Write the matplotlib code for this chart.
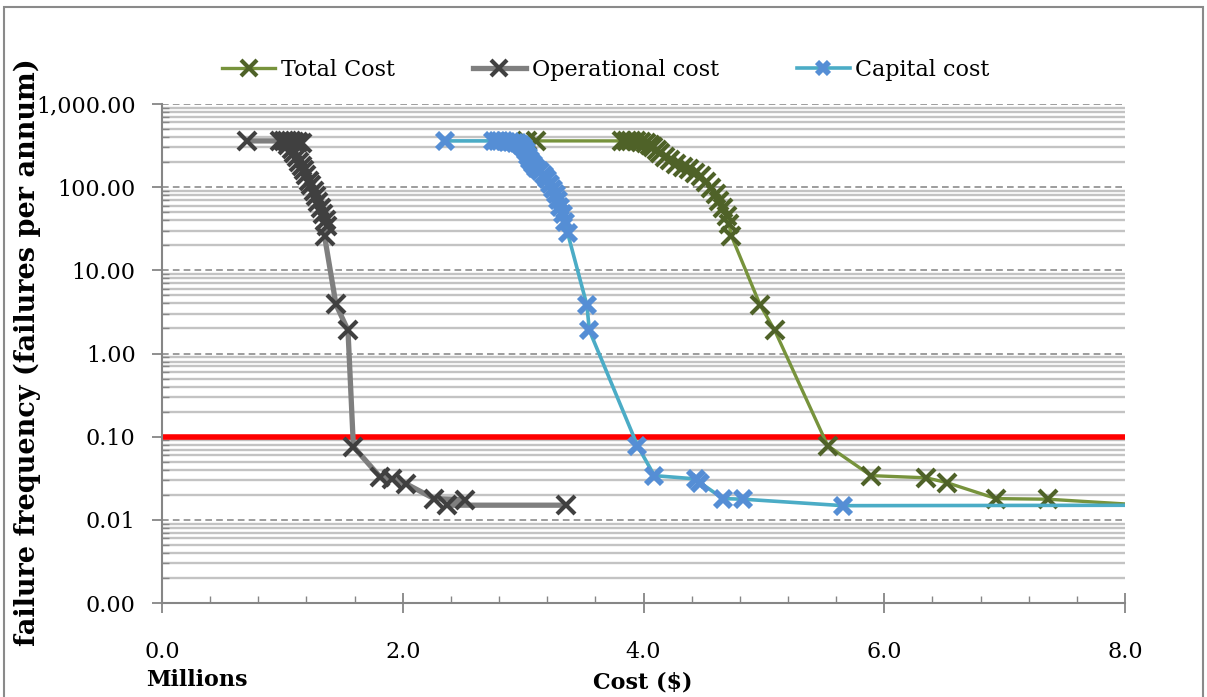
import matplotlib
matplotlib.use("Agg")
import matplotlib.pyplot as plt
from matplotlib.ticker import FixedLocator, FuncFormatter, LogLocator, MultipleLocator
from matplotlib.patches import Rectangle

# cost in millions of $, failure frequency per annum
total_x = [3.03, 3.11, 3.82, 3.86, 3.90, 3.94, 3.98, 4.02, 4.05, 4.08, 4.11, 4.14,
           4.18, 4.22, 4.27, 4.33, 4.38, 4.43, 4.48, 4.52, 4.56, 4.60, 4.63, 4.66,
           4.69, 4.71, 4.73, 4.97, 5.09, 5.53, 5.89, 6.35, 6.52, 6.93, 7.36, 8.30]
total_y = [360, 360, 360, 360, 358, 355, 350, 340, 320, 300, 280, 255,
           230, 210, 190, 175, 165, 150, 135, 115, 98, 82, 68, 56,
           45, 36, 26, 3.8, 1.9, 0.078, 0.034, 0.032, 0.028, 0.018, 0.0177, 0.0146]

oper_x = [0.71, 0.98, 1.01, 1.04, 1.07, 1.10, 1.13, 1.16, 1.05, 1.08, 1.10, 1.12,
          1.14, 1.16, 1.18, 1.20, 1.22, 1.24, 1.26, 1.28, 1.30, 1.32, 1.34, 1.36,
          1.37, 1.35, 1.445, 1.545, 1.59, 1.81, 1.91, 2.03, 2.26, 2.52, 2.37, 3.36]
oper_y = [360, 360, 360, 358, 355, 350, 345, 340, 320, 290, 260, 230,
          200, 180, 160, 140, 120, 105, 90, 78, 66, 56, 47, 40,
          34, 26, 3.9, 1.9, 0.076, 0.033, 0.031, 0.027, 0.018, 0.0175, 0.015, 0.015]

cap_x = [2.35, 2.75, 2.78, 2.81, 2.84, 2.87, 2.90, 2.93, 2.96, 2.98, 3.00, 3.02,
         3.04, 3.06, 3.08, 3.11, 3.14, 3.17, 3.20, 3.22, 3.25, 3.27, 3.29, 3.31,
         3.33, 3.35, 3.37, 3.53, 3.55, 3.95, 4.09, 4.44, 4.47, 4.66, 4.83, 5.66, 8.50]
cap_y = [360, 360, 360, 358, 356, 352, 348, 344, 340, 320, 300, 270,
         240, 215, 190, 170, 155, 140, 125, 110, 95, 82, 70, 58,
         48, 38, 28, 3.8, 1.9, 0.078, 0.034, 0.031, 0.028, 0.018, 0.0177, 0.0148, 0.0150]

target = 0.1
x_ticks = [0, 2, 4, 6, 8]
y_ticks = [0.001, 0.01, 0.1, 1, 10, 100, 1000]

plt.rcParams['font.family'] = ['DejaVu Serif']

fig = plt.figure(figsize=(12.07, 6.97), dpi=100)
ax = fig.add_axes([162 / 1207, 1 - 603 / 697, (1125 - 162) / 1207, (603 - 104) / 697])

ax.set_yscale('log')
ax.set_xlim(0, 8)
ax.set_ylim(0.001, 1000)

ax.yaxis.set_major_locator(FixedLocator(y_ticks))
ax.yaxis.set_minor_locator(LogLocator(base=10, subs=range(2, 10), numticks=20))
ax.yaxis.set_major_formatter(FuncFormatter(lambda v, p: '{:,.2f}'.format(v)))
ax.xaxis.set_major_locator(FixedLocator(x_ticks))
ax.xaxis.set_minor_locator(MultipleLocator(0.4))
ax.xaxis.set_major_formatter(FuncFormatter(lambda v, p: '{:.1f}'.format(v)))

ax.grid(True, which='minor', axis='y', color='#c3c3c3', lw=1.7, ls='-', zorder=0)
ax.grid(True, which='major', axis='y', color='#8c8c8c', lw=1.2, ls=(0, (4, 2.5)), zorder=0)
ax.set_axisbelow(True)

for s in ['top', 'right']:
    ax.spines[s].set_visible(False)
for s in ['left', 'bottom']:
    ax.spines[s].set_color('#868686')
    ax.spines[s].set_linewidth(1.5)

ax.tick_params(axis='y', which='major', direction='out', length=7, width=1.3,
               color='#868686', labelsize=16, pad=12)
ax.tick_params(axis='y', which='minor', direction='in', length=5, width=1.0, color='#868686')
ax.tick_params(axis='x', which='major', direction='inout', length=15, width=1.3,
               color='#868686', labelsize=16, pad=20)
ax.tick_params(axis='x', which='minor', direction='in', length=5, width=1.0, color='#868686')

ax.axhline(target, color='#ff0000', lw=4, zorder=1.5)

ax.plot(total_x, total_y, color='#77933c', lw=2.4, marker='x', ms=13, mew=3,
        mec='#4f6228', label='Total Cost', zorder=3)
ax.plot(oper_x, oper_y, color='#7f7f7f', lw=3.8, marker='x', ms=13, mew=3,
        mec='#404040', label='Operational cost', zorder=4)
ax.plot(cap_x, cap_y, color='#4bacc6', lw=2.6, marker='x', ms=11, mew=4.2,
        mec='#558ed5', label='Capital cost', zorder=5)

ax.set_ylabel('failure frequency (failures per annum)', fontsize=19.5, fontweight='bold')
ax.yaxis.set_label_coords(-0.126, 0.502)

fig.text(643 / 1207, 1 - 683 / 697, 'Cost ($)', ha='center', va='center',
         fontsize=16, fontweight='bold')
fig.text(197 / 1207, 1 - 680 / 697, 'Millions', ha='center', va='center',
         fontsize=16, fontweight='bold')

fig.legend(loc='center', bbox_to_anchor=(0.502, 0.9), ncol=3, frameon=False,
           fontsize=16, handlelength=2.4, handletextpad=0.25, columnspacing=3.5,
           markerscale=0.85)

fig.patches.append(Rectangle((0.003, -0.01), 0.994, 1.0, transform=fig.transFigure,
                             fill=False, edgecolor='#8a8a8a', lw=1.5))

fig.savefig('out.png', dpi=100)
